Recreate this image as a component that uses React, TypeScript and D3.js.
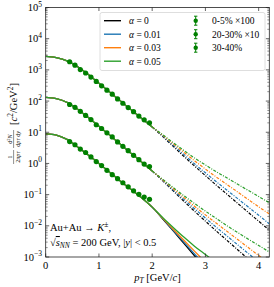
import React from 'react';
import * as d3 from 'd3';

// chart frame, same idea as the margin convention
const W = 274;
const H = 287;
const plot = { left: 45.7, right: 269.3, top: 7.5, bottom: 257 };

const alphaLabels = ['0', '0.01', '0.03', '0.05'];
const alphaColors = ['#000000', '#1f77b4', '#ff7f0e', '#2ca02c'];
const centralityLabels = ['0-5% \u00d7100', '20-30% \u00d710', '30-40%'];

// model grid in pT [GeV/c]
const pTGrid = [0, 0.2, 0.4, 0.6, 0.8, 1.0, 1.2, 1.4, 1.6, 1.8, 2.0, 2.2, 2.4, 2.6, 2.8, 3.0, 3.2, 3.4, 3.6, 3.8, 4.0, 4.2];

// 0-5% x100: identical for every alpha up to pT = 2
const c05Common = [2690, 2450, 1950, 1260, 708, 372, 195, 102, 53.7, 28.2, 14.8];
const c05a0 = [7.24, 3.47, 1.66, 0.813, 0.407, 0.204, 0.105, 0.0537, 0.0275, 0.0141, 0.00724];
const c05a1 = [7.59, 3.8, 1.91, 0.955, 0.501, 0.263, 0.141, 0.0759, 0.0407, 0.0219, 0.0115];
const c05a3 = [7.94, 4.17, 2.24, 1.2, 0.661, 0.372, 0.214, 0.123, 0.0708, 0.0407, 0.024];
const c05a5 = [8.32, 4.57, 2.57, 1.48, 0.891, 0.55, 0.347, 0.219, 0.138, 0.0871, 0.055];

// 20-30% x10
const c2030Common = [132, 120, 91.2, 55.0, 29.5, 15.5, 8.13, 4.17, 2.14, 1.12, 0.575];
const c2030a0 = [0.275, 0.129, 0.0603, 0.0288, 0.0141, 0.00692, 0.00347, 0.00174, 0.000871, 0.000447, 0.000229];
const c2030a1 = [0.282, 0.138, 0.0692, 0.0347, 0.0178, 0.00912, 0.00479, 0.00251, 0.00132, 0.000692, 0.000363];
const c2030a3 = [0.295, 0.151, 0.0794, 0.0417, 0.0224, 0.0123, 0.00676, 0.00372, 0.00204, 0.00112, 0.000617];
const c2030a5 = [0.309, 0.166, 0.0912, 0.0513, 0.0295, 0.0174, 0.0102, 0.00617, 0.0038, 0.00234, 0.00145];

// 30-40% (only down to the bottom of the frame)
const c3040Common = [8.91, 8.13, 5.89, 3.39, 1.86, 1.0, 0.525, 0.275, 0.148, 0.0794, 0.0398];
const c3040a0 = [0.0166, 0.00676, 0.00269, 0.00107, 0.000427, 0.00017];
const c3040a1 = [0.017, 0.00708, 0.00295, 0.00123, 0.000513, 0.000214];
const c3040a3 = [0.0174, 0.00759, 0.00339, 0.00151, 0.000676, 0.000302];
const c3040a5 = [0.0182, 0.00871, 0.00427, 0.00219, 0.0012, 0.000661];

// measured points
const dataPT = [0.45, 0.55, 0.65, 0.75, 0.85, 0.95, 1.05, 1.15, 1.25, 1.35, 1.45, 1.55, 1.65, 1.75, 1.85, 1.95];
const data05 = [1820, 1410, 1020, 794, 589, 427, 309, 224, 166, 117, 85.1, 61.7, 45.7, 33.1, 25.1, 20.0];
const data2030 = [77.6, 63.1, 46.8, 34.7, 25.4, 17.4, 13.2, 9.55, 7.08, 4.9, 3.55, 2.57, 1.82, 1.32, 0.955, 0.794];
const data3040 = [5.01, 3.98, 2.88, 2.24, 1.62, 1.15, 0.851, 0.603, 0.437, 0.324, 0.24, 0.178, 0.132, 0.102, 0.0832, 0.0708];

const xTicks = [0, 1, 2, 3, 4];
const yExps = [-3, -2, -1, 0, 1, 2, 3, 4, 5];

const x = d3.scaleLinear().domain([0, 4.2]).range([plot.left, plot.right]);
const y = d3.scaleLog().domain([1e-3, 1e5]).range([plot.bottom, plot.top]);

const serif = '"Liberation Serif", "DejaVu Serif", serif';

type Pt = [number, number];
const line = d3.line<Pt>().x(d => x(d[0])).y(d => y(d[1])).curve(d3.curveMonotoneX);

function pairs(ps: number[], vs: number[]): Pt[] {
  return vs.map((v, i) => [ps[i], v] as Pt);
}

const groups = [
  { common: c05Common, tails: [c05a0, c05a1, c05a3, c05a5], dashedTail: true },
  { common: c2030Common, tails: [c2030a0, c2030a1, c2030a3, c2030a5], dashedTail: true },
  { common: c3040Common, tails: [c3040a0, c3040a1, c3040a3, c3040a5], dashedTail: false }
];

const dataSets = [data05, data2030, data3040];

function Ten({ e }: { e: number }) {
  return (
    <>
      10<tspan dy={-4.5} fontSize={7.5}>{e < 0 ? '\u2212' + Math.abs(e) : e}</tspan>
    </>
  );
}

export default function App() {
  const minor: number[] = [];
  for (let e = -3; e < 5; e++) for (let k = 2; k < 10; k++) minor.push(k * Math.pow(10, e));

  return (
    <svg width={W} height={H} style={{ position: 'absolute', left: 0, top: 0, background: '#fff' }} fontFamily={serif}>
      <defs>
        <clipPath id="plotclip">
          <rect x={plot.left} y={plot.top} width={plot.right - plot.left} height={plot.bottom - plot.top} />
        </clipPath>
      </defs>

      <g clipPath="url(#plotclip)">
        {groups.map((g, gi) =>
          g.tails.map((tail, ai) => {
            const low = pairs(pTGrid, g.common);
            const high = pairs(pTGrid.slice(g.common.length - 1), [g.common[g.common.length - 1], ...tail]);
            if (!g.dashedTail) {
              return (
                <path key={`${gi}-${ai}`} d={line([...low, ...high.slice(1)]) || ''} fill="none"
                  stroke={alphaColors[ai]} strokeWidth={1.3} />
              );
            }
            return (
              <g key={`${gi}-${ai}`}>
                <path d={line(low) || ''} fill="none" stroke={alphaColors[ai]} strokeWidth={1.3} />
                <path d={line(high) || ''} fill="none" stroke={alphaColors[ai]} strokeWidth={1.2}
                  strokeDasharray="3,1.4,1,1.4" />
              </g>
            );
          })
        )}

        {dataSets.map((ds, di) =>
          ds.map((v, i) => (
            <circle key={`${di}-${i}`} cx={x(dataPT[i])} cy={y(v)} r={2.6} fill="#008000" />
          ))
        )}
      </g>

      {/* frame */}
      <rect x={plot.left} y={plot.top} width={plot.right - plot.left} height={plot.bottom - plot.top}
        fill="none" stroke="#222" strokeWidth={0.8} />

      {/* x ticks */}
      {xTicks.map(t => (
        <g key={'x' + t}>
          <line x1={x(t)} x2={x(t)} y1={plot.bottom} y2={plot.bottom - 3.5} stroke="#222" strokeWidth={0.7} />
          <line x1={x(t)} x2={x(t)} y1={plot.top} y2={plot.top + 3.5} stroke="#222" strokeWidth={0.7} />
          <text x={x(t)} y={268.5} fontSize={10.5} textAnchor="middle">{t}</text>
        </g>
      ))}

      {/* y ticks */}
      {yExps.map(e => (
        <g key={'y' + e}>
          <line x1={plot.left} x2={plot.left + 3.5} y1={y(Math.pow(10, e))} y2={y(Math.pow(10, e))} stroke="#222" strokeWidth={0.7} />
          <line x1={plot.right} x2={plot.right - 3.5} y1={y(Math.pow(10, e))} y2={y(Math.pow(10, e))} stroke="#222" strokeWidth={0.7} />
          <text x={42} y={y(Math.pow(10, e)) + 3.5} fontSize={10.5} textAnchor="end"><Ten e={e} /></text>
        </g>
      ))}
      {minor.map((m, i) => (
        <g key={'m' + i}>
          <line x1={plot.left} x2={plot.left + 2} y1={y(m)} y2={y(m)} stroke="#222" strokeWidth={0.5} />
          <line x1={plot.right} x2={plot.right - 2} y1={y(m)} y2={y(m)} stroke="#222" strokeWidth={0.5} />
        </g>
      ))}

      {/* axis labels */}
      <text x={(plot.left + plot.right) / 2} y={281} fontSize={10.5} textAnchor="middle">
        <tspan fontStyle="italic">p</tspan><tspan fontSize={7.5} dy={2} fontStyle="italic">T</tspan>
        <tspan dy={-2}> [GeV/</tspan><tspan fontStyle="italic">c</tspan>]
      </text>

      <g transform="translate(17,112) rotate(-90)">
        <text x={-45} y={-5} fontSize={6} textAnchor="middle">1</text>
        <line x1={-52} x2={-38} y1={-3.4} y2={-3.4} stroke="#222" strokeWidth={0.5} />
        <text x={-45} y={2.6} fontSize={6} textAnchor="middle">
          2π<tspan fontStyle="italic">p</tspan><tspan fontSize={4.5} fontStyle="italic">T</tspan>
        </text>
        <text x={-27} y={-5} fontSize={6} textAnchor="middle">
          d<tspan fontSize={4.5} dy={-2}>2</tspan><tspan dy={2} fontStyle="italic">N</tspan>
        </text>
        <line x1={-36} x2={-18} y1={-3.4} y2={-3.4} stroke="#222" strokeWidth={0.5} />
        <text x={-27} y={2.6} fontSize={6} textAnchor="middle">
          d<tspan fontStyle="italic">p</tspan><tspan fontSize={4.5} fontStyle="italic">T</tspan> d<tspan fontStyle="italic">y</tspan>
        </text>
        <text x={-13} y={0} fontSize={10.5}>
          [<tspan fontStyle="italic">c</tspan><tspan fontSize={7.5} dy={-4}>2</tspan><tspan dy={4}>/GeV</tspan><tspan fontSize={7.5} dy={-4}>2</tspan><tspan dy={4}>]</tspan>
        </text>
      </g>

      {/* annotation */}
      <text x={50} y={231} fontSize={10.5}>
        Au+Au → <tspan fontStyle="italic">K</tspan><tspan fontSize={7.5} dy={-4}>±</tspan><tspan dy={4}>,</tspan>
      </text>
      <text x={50} y={246} fontSize={10.5}>
        √<tspan fontStyle="italic" textDecoration="overline">s</tspan><tspan fontSize={7.5} dy={2} fontStyle="italic">NN</tspan>
        <tspan dy={-2}> = 200 GeV, |</tspan><tspan fontStyle="italic">y</tspan>| &lt; 0.5
      </text>

      {/* legend */}
      <rect x={100} y={12.5} width={165} height={58} rx={2} fill="#fff" fillOpacity={0.85} stroke="#d6d6d6" strokeWidth={0.8} />
      {alphaLabels.map((a, i) => {
        const ly = 20.7 + i * 13.5;
        return (
          <g key={'la' + a}>
            <line x1={104} x2={121} y1={ly} y2={ly} stroke={alphaColors[i]} strokeWidth={1.4} />
            <text x={129} y={ly + 3.3} fontSize={9.5}>
              <tspan fontStyle="italic">α</tspan> = {a}
            </text>
          </g>
        );
      })}
      {centralityLabels.map((c, i) => {
        const ly = 20.7 + i * 13.5;
        return (
          <g key={'lc' + i}>
            <line x1={195.7} x2={195.7} y1={ly - 4.5} y2={ly + 4.5} stroke="#008000" strokeWidth={1} />
            <line x1={194} x2={197.4} y1={ly - 4.5} y2={ly - 4.5} stroke="#008000" strokeWidth={1} />
            <line x1={194} x2={197.4} y1={ly + 4.5} y2={ly + 4.5} stroke="#008000" strokeWidth={1} />
            <circle cx={195.7} cy={ly} r={2.2} fill="#008000" />
            <text x={212} y={ly + 3.3} fontSize={9.5}>{c}</text>
          </g>
        );
      })}
    </svg>
  );
}
